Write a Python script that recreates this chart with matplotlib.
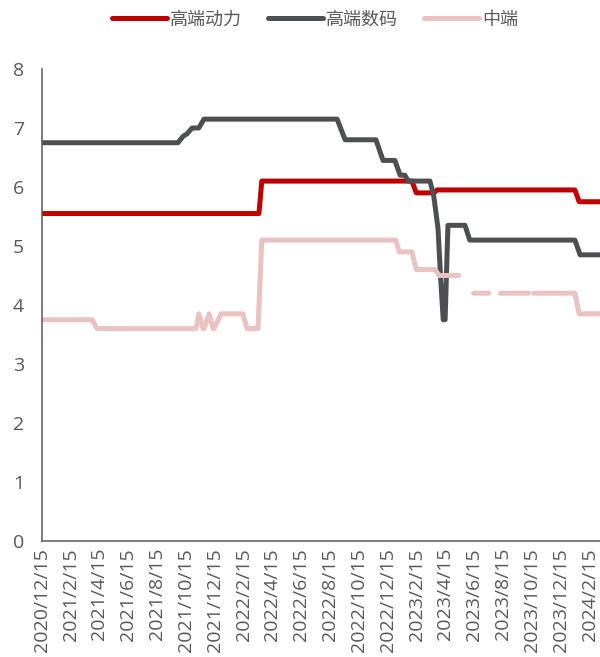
import matplotlib
matplotlib.use("Agg")
import matplotlib.pyplot as plt
import matplotlib.dates as mdates
import numpy as np
import pandas as pd

# ---- data ----
power_dates = ["2020-12-15", "2022-03-18", "2022-03-24", "2023-02-04", "2023-02-13",
               "2023-03-22", "2023-03-29", "2024-01-14", "2024-01-23", "2024-03-07"]
power_vals = [5.55, 5.55, 6.1, 6.1, 5.9, 5.9, 5.95, 5.95, 5.75, 5.75]

digital_dates = ["2020-12-15", "2021-09-28", "2021-10-09", "2021-10-17", "2021-10-28",
                 "2021-11-11", "2021-11-22", "2022-08-30", "2022-09-16", "2022-11-20",
                 "2022-12-05", "2022-12-30", "2023-01-10", "2023-01-20", "2023-01-27",
                 "2023-03-14", "2023-03-22", "2023-03-31", "2023-04-06", "2023-04-11",
                 "2023-04-15", "2023-04-21", "2023-05-27", "2023-06-06", "2024-01-14",
                 "2024-01-25", "2024-03-07"]
digital_vals = [6.75, 6.75, 6.86, 6.9, 7.0, 7.0, 7.15, 7.15, 6.8, 6.8,
                6.45, 6.45, 6.2, 6.2, 6.1, 6.1, 5.85, 5.3, 4.4, 3.75,
                3.75, 5.35, 5.35, 5.1, 5.1, 4.85, 4.85]

mid_dates = ["2020-12-15", "2021-03-31", "2021-04-10", "2021-11-05", "2021-11-11",
             "2021-11-20", "2021-11-22", "2021-12-03", "2021-12-11", "2021-12-13",
             "2021-12-28", "2022-02-12", "2022-02-21", "2022-03-16", "2022-03-24",
             "2023-01-01", "2023-01-08", "2023-02-04", "2023-02-13", "2023-03-25",
             "2023-04-02", "2023-05-14", "2023-05-30", "2023-06-14", "2023-07-16",
             "2023-07-28", "2023-08-10", "2023-10-08", "2023-10-13", "2023-10-19",
             "2024-01-14", "2024-01-23", "2024-03-07"]
mid_vals = [3.75, 3.75, 3.6, 3.6, 3.85,
            3.6, 3.6, 3.85, 3.6, 3.6,
            3.85, 3.85, 3.6, 3.6, 5.1,
            5.1, 4.9, 4.9, 4.6, 4.6,
            4.5, 4.5, np.nan, 4.2, 4.2,
            np.nan, 4.2, 4.2, np.nan, 4.2,
            4.2, 3.85, 3.85]

tick_dates = ["2020-12-15", "2021-02-15", "2021-04-15", "2021-06-15", "2021-08-15",
              "2021-10-15", "2021-12-15", "2022-02-15", "2022-04-15", "2022-06-15",
              "2022-08-15", "2022-10-15", "2022-12-15", "2023-02-15", "2023-04-15",
              "2023-06-15", "2023-08-15", "2023-10-15", "2023-12-15", "2024-02-15"]
tick_labels = ["2020/12/15", "2021/2/15", "2021/4/15", "2021/6/15", "2021/8/15",
               "2021/10/15", "2021/12/15", "2022/2/15", "2022/4/15", "2022/6/15",
               "2022/8/15", "2022/10/15", "2022/12/15", "2023/2/15", "2023/4/15",
               "2023/6/15", "2023/8/15", "2023/10/15", "2023/12/15", "2024/2/15"]

series_names = ["高端动力", "高端数码", "中端"]
colors = ["#C00000", "#4D4F52", "#EBC2C2"]

cjk = ["Noto Sans CJK SC", "DejaVu Sans"]

fig = plt.figure(figsize=(6.0, 6.57), dpi=100)
ax = fig.add_axes([0.07, 0.1766, 0.93, 0.7184])

for d, v, c, n in [(power_dates, power_vals, colors[0], series_names[0]),
                   (digital_dates, digital_vals, colors[1], series_names[1]),
                   (mid_dates, mid_vals, colors[2], series_names[2])]:
    ax.plot(pd.to_datetime(d), v, color=c, lw=3.6, label=n,
            solid_capstyle="round", solid_joinstyle="round")

ax.set_xlim(pd.Timestamp("2020-12-15"), pd.Timestamp("2024-03-07"))
ax.set_ylim(0, 8)
ax.set_yticks(range(0, 9))
ax.set_xticks(pd.to_datetime(tick_dates))
ax.set_xticklabels(tick_labels, rotation=90, fontfamily="Open Sans", fontsize=14, color="#595959")
for lab in ax.get_yticklabels():
    lab.set_fontfamily("Open Sans")
    lab.set_fontsize(14)
    lab.set_color("#595959")
ax.tick_params(axis="y", length=0, pad=13)
ax.tick_params(axis="x", length=0, pad=5)

for s in ["top", "right"]:
    ax.spines[s].set_visible(False)
for s in ["left", "bottom"]:
    ax.spines[s].set_color("#595959")
    ax.spines[s].set_linewidth(1.1)

fig.legend(loc="center", bbox_to_anchor=(0.525, 0.97), ncol=3, frameon=False,
           prop={"family": cjk, "size": 13}, handlelength=3.05, handletextpad=0.2,
           columnspacing=1.4, labelcolor="#595959")

fig.savefig("out.png", dpi=100)
